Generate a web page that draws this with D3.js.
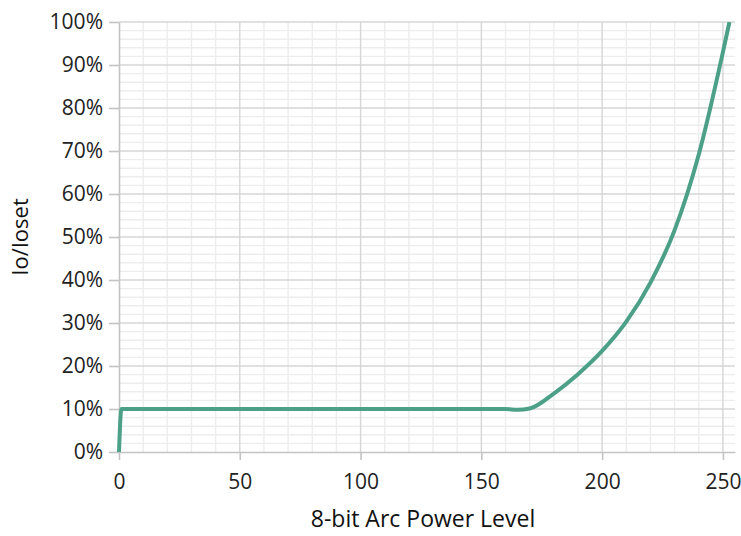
<!DOCTYPE html>
<html>
<head>
<meta charset="utf-8">
<script src="https://cdn.jsdelivr.net/npm/d3@7"></script>
<style>
  html, body { margin: 0; padding: 0; background: #fff; }
  svg { display: block; }
</style>
</head>
<body>
<div id="chart"></div>
<script>
// ---- Data ----
const levels = [0, 1, 20, 50, 100, 150, 160, 165, 170, 180, 190, 200, 210, 220, 230, 240, 250, 252.7];
const ratio  = [0, 10, 10, 10, 10, 10, 10, 9.8, 10.1, 13.6, 18.1, 23.5, 30.3, 39.4, 51.6, 69.2, 93, 100];
const xTicks = [0, 50, 100, 150, 200, 250];
const yTicks = [0, 10, 20, 30, 40, 50, 60, 70, 80, 90, 100];
const xTitle = "8-bit Arc Power Level";
const yTitle = "Io/Ioset";

// ---- Layout ----
const W = 741, H = 536;
const m = { left: 119, right: 6, top: 22, bottom: 84 };
const iw = W - m.left - m.right, ih = H - m.top - m.bottom;
const font = "'Open Sans', 'Liberation Sans', sans-serif";

const svg = d3.select("#chart").append("svg").attr("width", W).attr("height", H);
const g = svg.append("g").attr("transform", `translate(${m.left},${m.top})`);

const x = d3.scaleLinear().domain([0, 255]).range([0, iw]);
const y = d3.scaleLinear().domain([0, 100]).range([ih, 0]);

// minor gridlines
const minorX = d3.range(0, 256, 10).filter(v => v % 50 !== 0);
const minorY = d3.range(0, 101, 2).filter(v => v % 10 !== 0);
g.append("g").selectAll("line").data(minorX).join("line")
  .attr("x1", d => x(d)).attr("x2", d => x(d)).attr("y1", 0).attr("y2", ih)
  .attr("stroke", "#ededed").attr("stroke-width", 1.4);
g.append("g").selectAll("line").data(minorY).join("line")
  .attr("x1", 0).attr("x2", iw).attr("y1", d => y(d)).attr("y2", d => y(d))
  .attr("stroke", "#ededed").attr("stroke-width", 1.4);

// major gridlines
g.append("g").selectAll("line").data(xTicks.filter(v => v > 0)).join("line")
  .attr("x1", d => x(d)).attr("x2", d => x(d)).attr("y1", 0).attr("y2", ih)
  .attr("stroke", "#d6d6d6").attr("stroke-width", 1.4);
g.append("g").selectAll("line").data(yTicks.filter(v => v > 0)).join("line")
  .attr("x1", 0).attr("x2", iw).attr("y1", d => y(d)).attr("y2", d => y(d))
  .attr("stroke", "#d6d6d6").attr("stroke-width", 1.4);

// axes
const xAxis = g.append("g").attr("transform", `translate(0,${ih})`)
  .call(d3.axisBottom(x).tickValues(xTicks).tickSize(8).tickPadding(14).tickSizeOuter(0));
const yAxis = g.append("g")
  .call(d3.axisLeft(y).tickValues(yTicks).tickFormat(d => d + "%").tickSize(10).tickPadding(6).tickSizeOuter(0));
[xAxis, yAxis].forEach(a => {
  a.select(".domain").attr("stroke", "#c4c4c4").attr("stroke-width", 1.6);
  a.selectAll(".tick line").attr("stroke", "#c4c4c4").attr("stroke-width", 1.6);
  a.selectAll("text").attr("font-family", font).attr("font-size", 21).attr("fill", "#222");
});

// line
const line = d3.line().x((d, i) => x(levels[i])).y(d => y(d)).curve(d3.curveMonotoneX);
g.append("path").datum(ratio).attr("d", line)
  .attr("fill", "none").attr("stroke", "#4ba087").attr("stroke-width", 4)
  .attr("stroke-linejoin", "round");

// titles
svg.append("text").attr("x", m.left + iw / 2 - 4).attr("y", 527)
  .attr("text-anchor", "middle").attr("font-family", font).attr("font-size", 23).attr("fill", "#111")
  .text(xTitle);
svg.append("text").attr("transform", `translate(28,${m.top + ih / 2}) rotate(-90)`)
  .attr("text-anchor", "middle").attr("font-family", font).attr("font-size", 22).attr("fill", "#111")
  .text(yTitle);
</script>
</body>
</html>
